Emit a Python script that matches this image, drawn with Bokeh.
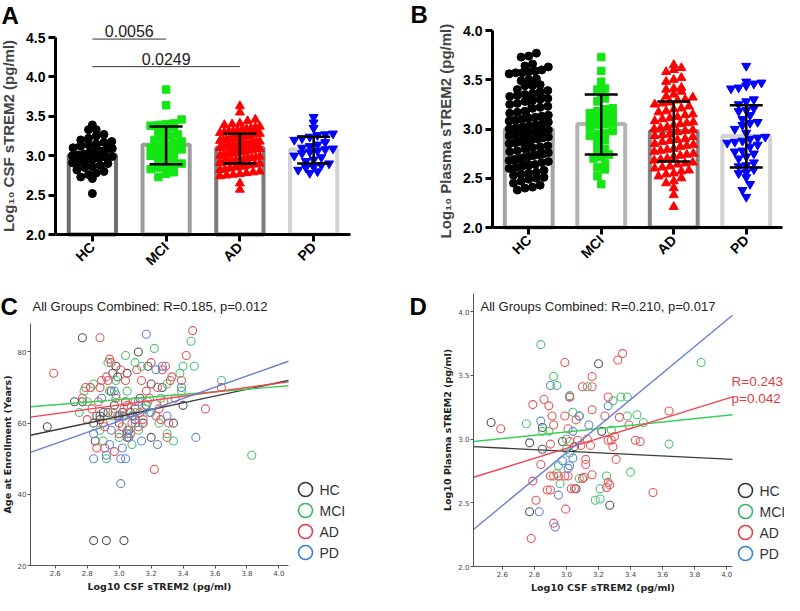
import math
import numpy as np
from bokeh.plotting import figure
from bokeh.layouts import row, column
from bokeh.models import (ColumnDataSource, FixedTicker, Label, Whisker, TeeHead, Range1d,
                          NumeralTickFormatter)
from bokeh.core.properties import value
from bokeh.embed import file_html
from bokeh.resources import INLINE

groups = ["HC", "MCI", "AD", "PD"]

# ---------------- Panel A: Log10 CSF sTREM2 ----------------
csf_hc = [3.39, 3.33, 3.33, 3.27, 3.25, 3.22, 3.20, 3.18, 3.17, 3.15, 3.14, 3.12, 3.10, 3.09,
          3.08, 3.06, 3.05, 3.04, 3.02, 3.01, 3.00, 2.99, 2.98, 2.97, 2.95, 2.94, 2.93, 2.91,
          2.90, 2.88, 2.86, 2.85, 2.82, 2.80, 2.78, 2.76, 2.73, 2.71, 2.52]
csf_mci = [3.84, 3.64, 3.46, 3.41, 3.40, 3.39, 3.38, 3.36, 3.33, 3.30, 3.27, 3.25, 3.23, 3.20,
           3.18, 3.16, 3.14, 3.12, 3.10, 3.08, 3.06, 3.04, 3.02, 3.00, 2.98, 2.95, 2.93, 2.90,
           2.88, 2.86, 2.85, 2.83, 2.79, 2.77, 2.73]
csf_ad = [3.63, 3.55, 3.46, 3.44, 3.41, 3.40, 3.39, 3.37, 3.36, 3.35, 3.34, 3.33, 3.32, 3.31,
          3.31, 3.30, 3.29, 3.28, 3.28, 3.27, 3.26, 3.25, 3.25, 3.24, 3.23, 3.22, 3.22, 3.21,
          3.20, 3.20, 3.19, 3.18, 3.17, 3.17, 3.16, 3.15, 3.15, 3.14, 3.13, 3.13, 3.12, 3.11,
          3.11, 3.10, 3.09, 3.09, 3.08, 3.07, 3.07, 3.06, 3.05, 3.05, 3.04, 3.03, 3.03, 3.02,
          3.01, 3.00, 3.00, 2.99, 2.98, 2.97, 2.97, 2.96, 2.95, 2.94, 2.93, 2.93, 2.92, 2.91,
          2.90, 2.89, 2.88, 2.87, 2.86, 2.85, 2.84, 2.83, 2.82, 2.80, 2.79, 2.78, 2.77, 2.76,
          2.75, 2.74, 2.65, 2.57]
csf_pd = [3.49, 3.42, 3.35, 3.28, 3.27, 3.26, 3.24, 3.22, 3.20, 3.17, 3.14, 3.12, 3.10, 3.09,
          3.08, 3.06, 3.05, 3.03, 3.00, 2.98, 2.95, 2.93, 2.90, 2.88, 2.86, 2.85, 2.82, 2.80, 2.78]
csf_mean = [3.01, 3.14, 3.10, 3.08]
csf_lo = [2.88, 2.89, 2.90, 2.90]
csf_hi = [3.14, 3.37, 3.28, 3.24]
sig_a = ["HC", "HC"]
sig_b = ["MCI", "AD"]
sig_p = ["0.0056", "0.0249"]
sig_y = [4.48, 4.13]

# ---------------- Panel B: Log10 Plasma sTREM2 ----------------
plasma_hc = [3.77, 3.74, 3.73, 3.66, 3.64, 3.63, 3.60, 3.59, 3.58, 3.57, 3.57, 3.56, 3.51, 3.50,
             3.49, 3.45, 3.44, 3.44, 3.40, 3.39, 3.38, 3.36, 3.35, 3.34, 3.33, 3.31, 3.30, 3.29,
             3.28, 3.26, 3.25, 3.23, 3.22, 3.21, 3.18, 3.17, 3.16, 3.14, 3.13, 3.12, 3.11, 3.10,
             3.09, 3.08, 3.07, 3.05, 3.04, 3.03, 3.02, 3.01, 3.00, 2.99, 2.98, 2.97, 2.96, 2.95,
             2.94, 2.93, 2.92, 2.91, 2.90, 2.89, 2.88, 2.87, 2.86, 2.85, 2.83, 2.82, 2.81, 2.80,
             2.78, 2.77, 2.76, 2.75, 2.74, 2.73, 2.72, 2.71, 2.70, 2.69, 2.68, 2.67, 2.66, 2.64,
             2.63, 2.62, 2.61, 2.60, 2.58, 2.56, 2.55, 2.54, 2.53, 2.51, 2.50, 2.49, 2.47, 2.45,
             2.43, 2.41, 2.40, 2.38]
plasma_mci = [3.73, 3.59, 3.48, 3.41, 3.40, 3.33, 3.31, 3.28, 3.21, 3.20, 3.18, 3.16, 3.13, 3.12,
              3.10, 3.08, 3.06, 3.05, 3.04, 3.01, 2.98, 2.96, 2.95, 2.93, 2.89, 2.87, 2.80, 2.79,
              2.74, 2.72, 2.70, 2.65, 2.61, 2.59, 2.52, 2.44]
plasma_ad = [3.65, 3.62, 3.60, 3.58, 3.52, 3.50, 3.48, 3.42, 3.41, 3.40, 3.38, 3.35, 3.33, 3.32,
             3.30, 3.29, 3.27, 3.26, 3.25, 3.23, 3.21, 3.20, 3.18, 3.17, 3.15, 3.14, 3.12, 3.11,
             3.10, 3.08, 3.07, 3.06, 3.05, 3.04, 3.02, 3.01, 3.00, 2.99, 2.98, 2.97, 2.95, 2.94,
             2.93, 2.92, 2.90, 2.89, 2.88, 2.87, 2.85, 2.84, 2.83, 2.82, 2.80, 2.79, 2.78, 2.77,
             2.75, 2.74, 2.73, 2.72, 2.70, 2.69, 2.68, 2.66, 2.65, 2.64, 2.62, 2.61, 2.60, 2.58,
             2.57, 2.55, 2.54, 2.52, 2.50, 2.47, 2.45, 2.40, 2.33, 2.21]
plasma_pd = [3.64, 3.48, 3.47, 3.46, 3.44, 3.42, 3.41, 3.30, 3.28, 3.25, 3.21, 3.19, 3.18, 3.14,
             3.10, 3.07, 3.06, 3.04, 3.00, 2.96, 2.92, 2.91, 2.90, 2.88, 2.87, 2.86, 2.84, 2.82,
             2.78, 2.77, 2.75, 2.72, 2.70, 2.66, 2.63, 2.62, 2.59, 2.56, 2.55, 2.51, 2.44, 2.38, 2.31]
plasma_mean = [3.00, 3.05, 2.98, 2.93]
plasma_lo = [2.66, 2.74, 2.67, 2.61]
plasma_hi = [3.34, 3.35, 3.28, 3.24]

# ---------------- Panel C: CSF sTREM2 vs age ----------------
c_hc_x = [2.55, 2.72, 2.77, 2.77, 2.84, 2.85, 2.86, 2.88, 2.90, 2.95, 2.96, 2.97, 2.98, 2.99,
          3.00, 3.02, 3.03, 3.04, 3.05, 3.06, 3.07, 3.10, 3.12, 3.13, 3.15, 3.17, 3.18, 3.20,
          3.20, 3.27, 3.34, 3.40, 2.84, 2.92, 3.03, 2.93, 3.00, 3.10, 3.05, 2.88]
c_hc_y = [59, 66, 66, 84, 60, 55, 62, 62, 63, 69, 74, 65, 76, 73, 60, 63, 62, 66, 74, 58,
          63, 64, 80, 67, 60, 65, 76, 56, 71, 70, 60, 65, 27, 27, 27, 63, 62, 61, 56, 61]
c_mci_x = [2.75, 2.78, 2.80, 2.82, 2.84, 2.88, 2.90, 2.92, 2.93, 2.94, 2.96, 2.98, 3.00, 3.02,
           3.04, 3.05, 3.05, 3.08, 3.10, 3.10, 3.14, 3.16, 3.18, 3.22, 3.25, 3.26, 3.30, 3.30,
           3.34, 3.38, 3.39, 3.40, 3.45, 3.47, 3.64, 3.83, 3.20, 2.98, 3.12]
c_mci_y = [63, 69, 66, 70, 71, 58, 55, 50, 77, 69, 62, 72, 56, 62, 79, 69, 58, 54, 77, 63,
           76, 64, 66, 81, 60, 67, 57, 71, 55, 74, 69, 76, 83, 76, 72, 51, 63, 68, 58]
c_ad_x = [2.59, 2.77, 2.79, 2.80, 2.82, 2.83, 2.86, 2.87, 2.88, 2.88, 2.89, 2.90, 2.91, 2.92,
          2.93, 2.94, 2.95, 2.96, 2.97, 2.98, 2.99, 3.01, 3.02, 3.03, 3.04, 3.05, 3.06, 3.07,
          3.08, 3.09, 3.10, 3.11, 3.12, 3.14, 3.15, 3.17, 3.19, 3.20, 3.22, 3.23, 3.24, 3.25,
          3.27, 3.28, 3.29, 3.30, 3.31, 3.32, 3.33, 3.35, 3.39, 3.42, 3.46, 3.54, 3.64, 2.91,
          3.00, 3.13, 3.26]
c_ad_y = [74, 67, 70, 61, 70, 64, 53, 66, 84, 70, 72, 60, 59, 73, 72, 78, 77, 63, 52, 67,
          62, 75, 59, 64, 72, 65, 56, 57, 60, 62, 66, 75, 59, 72, 61, 69, 67, 77, 47, 62,
          70, 64, 75, 66, 76, 56, 60, 72, 73, 67, 72, 79, 86, 64, 70, 53, 57, 63, 61]
c_pd_x = [2.84, 2.84, 2.89, 2.92, 2.94, 2.95, 2.97, 3.00, 3.01, 3.01, 3.02, 3.04, 3.05, 3.06,
          3.08, 3.10, 3.14, 3.17, 3.19, 3.23, 3.24, 3.27, 3.30, 3.39, 3.48, 3.12]
c_pd_y = [50, 57, 67, 51, 54, 58, 69, 62, 43, 50, 53, 50, 57, 56, 62, 60, 55, 85, 63, 75,
          54, 76, 62, 70, 56, 66]
c_fit_x = [2.445, 4.06]
c_fit_hc = [56.6, 72.0]
c_fit_mci = [64.6, 70.5]
c_fit_ad = [61.7, 71.6]
c_fit_pd = [51.8, 77.4]

# ---------------- Panel D: CSF vs plasma sTREM2 ----------------
d_hc_x = [2.53, 2.77, 2.77, 2.85, 2.85, 2.975, 3.02, 3.06, 3.20, 3.22, 3.27, 3.05]
d_hc_y = [3.13, 2.97, 2.43, 3.09, 2.92, 2.98, 3.33, 2.61, 3.59, 3.06, 2.48, 2.94]
d_mci_x = [2.75, 2.84, 2.85, 2.89, 2.92, 2.94, 2.94, 2.95, 2.96, 3.00, 3.02, 3.04, 3.02, 3.08,
           3.08, 3.13, 3.18, 3.21, 3.21, 3.25, 3.28, 3.29, 3.34, 3.38, 3.38, 3.40, 3.44, 3.48,
           3.64, 3.84, 3.00]
d_mci_y = [3.12, 3.74, 3.06, 3.06, 3.49, 3.42, 2.73, 2.79, 2.65, 2.92, 2.89, 3.21, 3.34, 3.18,
           2.69, 3.41, 2.52, 2.53, 2.61, 2.71, 3.07, 3.30, 3.33, 3.33, 3.18, 2.74, 3.19, 3.13,
           2.96, 3.60, 3.00]
d_ad_x = [2.59, 2.78, 2.79, 2.79, 2.81, 2.84, 2.86, 2.88, 2.89, 2.90, 2.90, 2.90, 2.91, 2.92,
          2.92, 2.92, 2.95, 2.99, 2.99, 2.995, 2.99, 3.01, 3.01, 3.02, 3.03, 3.05, 3.06, 3.07,
          3.09, 3.10, 3.10, 3.11, 3.12, 3.12, 3.13, 3.15, 3.16, 3.16, 3.16, 3.16, 3.24, 3.25,
          3.26, 3.26, 3.26, 3.27, 3.28, 3.29, 3.30, 3.31, 3.32, 3.33, 3.35, 3.39, 3.43, 3.46,
          3.54, 3.64, 3.02]
d_ad_y = [3.08, 2.22, 2.67, 3.27, 2.52, 2.80, 3.31, 2.60, 3.26, 2.96, 2.60, 2.71, 3.18, 3.11,
          2.34, 2.71, 2.71, 3.18, 3.60, 2.45, 2.71, 3.08, 2.71, 2.98, 2.61, 2.61, 3.15, 2.99,
          2.95, 3.41, 2.69, 2.70, 2.84, 2.80, 3.00, 2.95, 3.41, 3.49, 3.23, 2.72, 3.18, 2.62,
          3.33, 2.99, 2.66, 2.64, 2.99, 2.94, 3.02, 2.84, 3.62, 3.17, 3.67, 3.11, 2.99, 2.98,
          2.58, 3.22, 3.33]
d_pd_x = [2.83, 2.84, 2.90, 2.93, 2.95, 2.975, 3.01, 3.02, 3.04, 3.04, 3.08, 3.14, 3.26]
d_pd_y = [2.43, 3.14, 3.42, 2.31, 2.56, 2.83, 2.77, 2.79, 3.06, 2.85, 3.18, 3.11, 3.26]
d_fit_x = [2.42, 4.036]
d_fit_hc = [2.94, 2.84]
d_fit_mci = [2.98, 3.19]
d_fit_ad = [2.70, 3.33]
d_fit_pd = [2.29, 3.97]

# ---------------- styling ----------------
dot_colors = ["#000000", "#14e614", "#ff0000", "#0000ff"]
dot_markers = ["circle", "square", "triangle", "inverted_triangle"]
dot_sizes = [8, 7.5, 9, 9]
sc_colors = ["#555555", "#4ec373", "#e5585c", "#6286d6"]
fit_colors = ["#3a3a3a", "#38d158", "#f24650", "#6c80d2"]
leg_colors = ["#333333", "#35b565", "#e23e48", "#3b80d2"]
BOLD_FONT = "Liberation Sans"


class Mapper:
    """Linear pixel <-> data mapping for a figure whose frame covers the whole figure."""
    def __init__(self, w, h, xa, pxa, xb, pxb, ya, pya, yb, pyb):
        self.w, self.h = w, h
        self.sx = (xb - xa) / (pxb - pxa)
        self.x0 = xa - pxa * self.sx
        self.sy = (yb - ya) / (pyb - pya)
        self.y0 = ya - pya * self.sy

    def x(self, px):
        return self.x0 + px * self.sx

    def y(self, py):
        return self.y0 + py * self.sy

    def xr(self):
        return Range1d(self.x(0), self.x(self.w))

    def yr(self):
        return Range1d(self.y(self.h), self.y(0))


def base_fig(m):
    p = figure(width=m.w, height=m.h, x_range=m.xr(), y_range=m.yr(),
               output_backend="svg", toolbar_location=None,
               min_border_left=0, min_border_right=0, min_border_top=0, min_border_bottom=0)
    p.outline_line_color = None
    p.grid.visible = False
    return p


def swarm(vals, center, dy, dx, maxw):
    v = np.asarray(vals, dtype=float)
    xs = np.full(len(v), float(center))
    keys = np.floor((v - 2.0) / dy + 0.5)
    for k in np.unique(keys):
        idx = np.where(keys == k)[0]
        idx = idx[np.argsort(v[idx])]
        n = len(idx)
        if n > 1:
            step = min(dx, 2 * maxw / (n - 1))
            xs[idx] = center + (np.arange(n) - (n - 1) / 2) * step
    return xs


def bar_panel(m, vals, means, lo, hi, ylabel, y_top, bar_w, bar_colors, dy, letter, letter_px):
    p = base_fig(m)
    centers = np.arange(len(groups)) + 0.5
    p.vbar(x=centers, bottom=2.0, top=means, width=bar_w, fill_color="white",
           line_color=bar_colors, line_width=4)
    for i in range(len(groups)):
        xs = swarm(vals[i], centers[i], dy, 0.105, 0.27)
        p.scatter(xs, vals[i], marker=dot_markers[i], size=dot_sizes[i],
                  fill_color=dot_colors[i], line_color=dot_colors[i])
    src = ColumnDataSource(dict(base=centers, lower=lo, upper=hi))
    w = Whisker(source=src, base="base", lower="lower", upper="upper", dimension="height",
                line_width=2.5, line_color="black", level="annotation",
                upper_head=TeeHead(size=33, line_width=2.5, line_color="black"),
                lower_head=TeeHead(size=33, line_width=2.5, line_color="black"))
    p.add_layout(w)

    ya = p.yaxis[0]
    ya.fixed_location = 0
    ya.ticker = FixedTicker(ticks=[2.0 + 0.5 * k for k in range(int(round((y_top - 2.0) / 0.5)) + 1)])
    ya.bounds = (2.0, y_top)
    ya.formatter = NumeralTickFormatter(format="0.0")
    ya.axis_label = ylabel
    xa = p.xaxis[0]
    xa.fixed_location = 2.0
    xa.bounds = (0, len(groups))
    xa.ticker = FixedTicker(ticks=list(centers))
    xa.major_label_overrides = {float(c): g for c, g in zip(centers, groups)}
    xa.major_label_orientation = math.pi / 4
    for ax in (xa, ya):
        ax.axis_line_width = 3
        ax.axis_line_color = "black"
        ax.major_tick_line_width = 3
        ax.major_tick_out = 7
        ax.major_tick_in = 0
        ax.minor_tick_line_color = None
        ax.major_label_text_font = BOLD_FONT
        ax.major_label_text_font_style = "bold"
        ax.major_label_text_font_size = "14px"
        ax.major_label_text_color = "black"
        ax.major_label_standoff = 3
        ax.axis_label_text_font = BOLD_FONT
        ax.axis_label_text_font_style = "bold"
        ax.axis_label_text_font_size = "15px"
        ax.axis_label_standoff = 6
    p.add_layout(Label(x=m.x(letter_px[0]), y=m.y(letter_px[1]), text=letter, text_font=BOLD_FONT,
                       text_font_style="bold", text_font_size="24px", text_align="left",
                       text_baseline="middle", text_color="black"))
    return p


# figure-local pixel geometry (figure A at page (8,8), B at (400,8), C at (8,300), D at (400,300))
mA = Mapper(392, 292, 0, 55, 4, 350, 4.5, 37, 2.0, 234)
mB = Mapper(392, 292, 0, 100, 4, 390, 4.0, 30, 2.0, 227)
mC = Mapper(392, 303, 2.445, 30, 4.06, 288, 88, 31, 20, 273)
mD = Mapper(392, 303, 2.42, 81, 4.036, 340, 4.0, 19, 2.0, 274)

pA = bar_panel(mA, [csf_hc, csf_mci, csf_ad, csf_pd], csf_mean, csf_lo, csf_hi,
               "Log\u2081\u2080 CSF sTREM2 (pg/ml)", 4.5, 0.64,
               ["#6e6e6e", "#9c9c9c", "#7a7a7a", "#d2d2d2"], 0.095, "A", (1, 15))
idx = {g: i + 0.5 for i, g in enumerate(groups)}
sig_src = ColumnDataSource(dict(x0=[idx[a] for a in sig_a], x1=[idx[b] for b in sig_b],
                                xm=[(idx[a] + idx[b]) / 2 for a, b in zip(sig_a, sig_b)],
                                y=sig_y, t=sig_p))
pA.segment(x0="x0", x1="x1", y0="y", y1="y", source=sig_src, line_color="#333333", line_width=1)
pA.text(x="xm", y="y", text="t", source=sig_src, text_align="center", text_baseline="bottom",
        y_offset=-2, text_font=value("Liberation Sans"), text_font_size="16px", text_color="#222222")

pB = bar_panel(mB, [plasma_hc, plasma_mci, plasma_ad, plasma_pd], plasma_mean, plasma_lo, plasma_hi,
               "Log\u2081\u2080 Plasma  sTREM2 (pg/ml)", 4.0, 0.66,
               ["#a4a4a4", "#b4b4b4", "#858585", "#d2d2d2"], 0.08, "B", (18, 14))


def scatter_panel(m, xs, ys, fit_x, fits, x_lo, x_hi, y_lo, y_hi, yticks, yfmt, xlabel, ylabel,
                  title, title_px, letter, letter_px, legend_px):
    p = base_fig(m)
    for i in range(len(groups)):
        p.scatter(xs[i], ys[i], marker="circle", size=8, fill_color=None,
                  line_color=sc_colors[i], line_width=1.1)
    for i in range(len(groups)):
        p.line(fit_x, fits[i], line_color=fit_colors[i], line_width=1.4)
    # legend key (drawn as marks placed in the figure's pixel layout)
    lx, ly, pitch = legend_px
    key = ColumnDataSource(dict(
        x=[m.x(lx)] * len(groups),
        tx=[m.x(lx + 14)] * len(groups),
        y=[m.y(ly + k * pitch) for k in range(len(groups))],
        label=groups, color=leg_colors))
    p.scatter(x="x", y="y", source=key, marker="circle", size=14, fill_color=None,
              line_color="color", line_width=1.6)
    p.text(x="tx", y="y", text="label", source=key, text_align="left", text_baseline="middle",
           text_font=value("Liberation Sans"), text_font_size="14px", text_color="#333333")
    xa, ya = p.xaxis[0], p.yaxis[0]
    xa.fixed_location = y_lo
    xa.bounds = (x_lo, x_hi)
    ya.fixed_location = x_lo
    ya.bounds = (y_lo, y_hi)
    xa.ticker = FixedTicker(ticks=[2.6, 2.8, 3.0, 3.2, 3.4, 3.6, 3.8, 4.0])
    xa.formatter = NumeralTickFormatter(format="0.0")
    ya.ticker = FixedTicker(ticks=yticks)
    ya.formatter = NumeralTickFormatter(format=yfmt)
    xa.axis_label = xlabel
    ya.axis_label = ylabel
    for ax in (xa, ya):
        ax.axis_line_color = "#555555"
        ax.axis_line_width = 1
        ax.major_tick_line_color = "#555555"
        ax.major_tick_out = 3
        ax.major_tick_in = 0
        ax.minor_tick_line_color = None
        ax.major_label_text_font = "DejaVu Sans"
        ax.major_label_text_font_size = "7px"
        ax.major_label_text_color = "#444444"
        ax.major_label_standoff = 1
        ax.axis_label_text_font = "DejaVu Sans"
        ax.axis_label_text_font_style = "bold"
        ax.axis_label_text_font_size = "9.5px"
        ax.axis_label_text_color = "#222222"
        ax.axis_label_standoff = 2
    p.add_layout(Label(x=m.x(title_px[0]), y=m.y(title_px[1]), text=title,
                       text_font="Liberation Sans", text_font_size="13px",
                       text_color="#222222", text_baseline="middle"))
    p.add_layout(Label(x=m.x(letter_px[0]), y=m.y(letter_px[1]), text=letter, text_font=BOLD_FONT,
                       text_font_style="bold", text_font_size="24px", text_align="left",
                       text_baseline="middle", text_color="black"))
    return p


pC = scatter_panel(mC, [c_hc_x, c_mci_x, c_ad_x, c_pd_x], [c_hc_y, c_mci_y, c_ad_y, c_pd_y],
                   c_fit_x, [c_fit_hc, c_fit_mci, c_fit_ad, c_fit_pd],
                   2.445, 4.06, 20, 88, [20, 40, 60, 80], "0",
                   "Log10 CSF sTREM2 (pg/ml)", "Age at Enrollment (Years)",
                   "All Groups  Combined: R=0.185,  p=0.012", (32, 14), "C", (0, 14),
                   (305, 197, 21))

pD = scatter_panel(mD, [d_hc_x, d_mci_x, d_ad_x, d_pd_x], [d_hc_y, d_mci_y, d_ad_y, d_pd_y],
                   d_fit_x, [d_fit_hc, d_fit_mci, d_fit_ad, d_fit_pd],
                   2.42, 4.036, 2.0, 4.14, [2.0, 2.5, 3.0, 3.5, 4.0], "0.0",
                   "Log10 CSF sTREM2 (pg/ml)", "Log10 Plasma sTREM2 (pg/ml)",
                   "All Groups  Combined: R=0.210,  p=0.017", (88, 14), "D", (17, 14),
                   (353, 198, 21))
pD.add_layout(Label(x=mD.x(339), y=mD.y(89), text="R=0.243", text_font="Liberation Sans",
                    text_font_size="13.5px", text_color="#e03c45", text_baseline="middle"))
pD.add_layout(Label(x=mD.x(339), y=mD.y(106), text="p=0.042", text_font="Liberation Sans",
                    text_font_size="13.5px", text_color="#e03c45", text_baseline="middle"))

layout = column(row(pA, pB), row(pC, pD))
open("out.html", "w").write(file_html(layout, INLINE))
